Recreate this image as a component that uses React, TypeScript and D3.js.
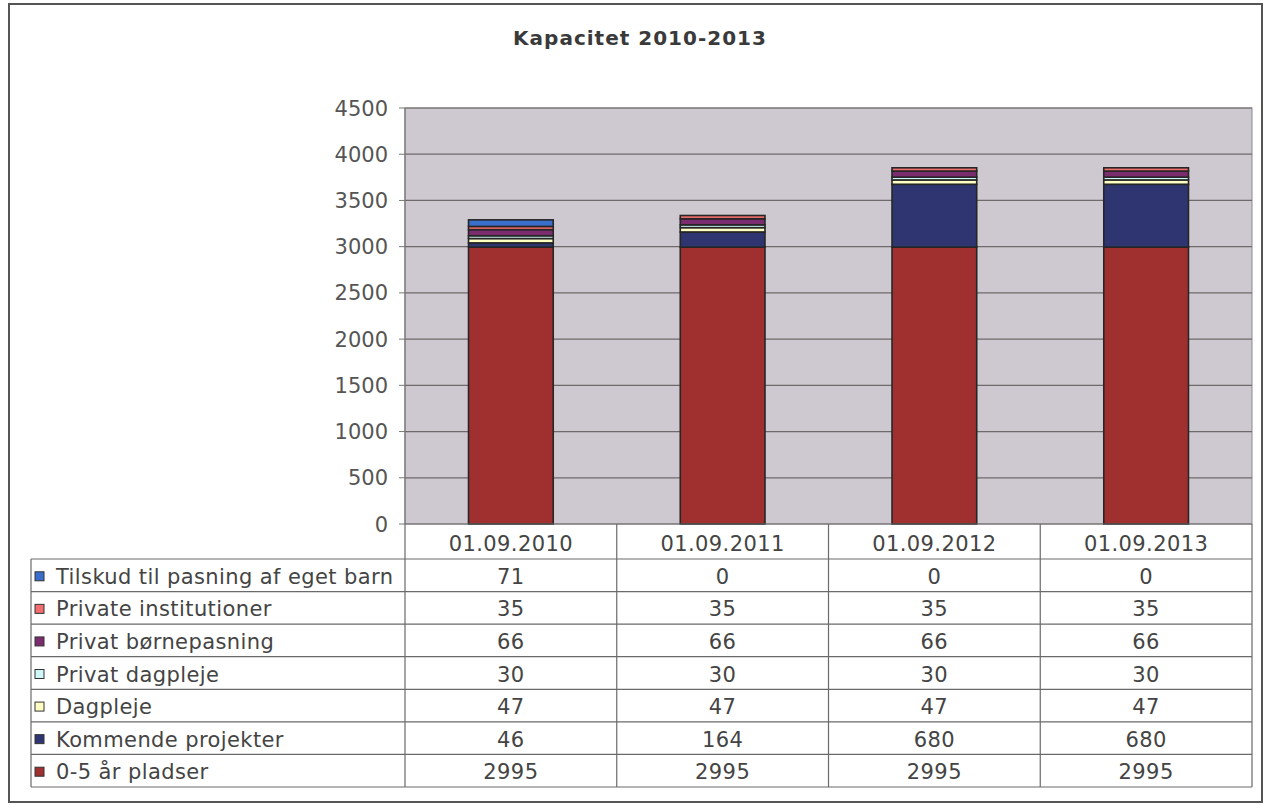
import React from "react";
import * as d3 from "d3";

const categories = ["01.09.2010", "01.09.2011", "01.09.2012", "01.09.2013"];
// series listed bottom-to-top in stack order
const seriesNames = [
  "0-5 år pladser",
  "Kommende projekter",
  "Dagpleje",
  "Privat dagpleje",
  "Privat børnepasning",
  "Private institutioner",
  "Tilskud til pasning af eget barn",
];
const seriesColors = ["#A0302F", "#2F3570", "#FFFFC4", "#CFF7F7", "#7A2C6E", "#F26D6D", "#3A6ECC"];
const pladser = [2995, 2995, 2995, 2995];
const kommende = [46, 164, 680, 680];
const dagpleje = [47, 47, 47, 47];
const privatDagpleje = [30, 30, 30, 30];
const privatBoernepasning = [66, 66, 66, 66];
const privateInstitutioner = [35, 35, 35, 35];
const tilskud = [71, 0, 0, 0];
const seriesValues = [pladser, kommende, dagpleje, privatDagpleje, privatBoernepasning, privateInstitutioner, tilskud];
const yTicks = [0, 500, 1000, 1500, 2000, 2500, 3000, 3500, 4000, 4500];
const title = "Kapacitet 2010-2013";

const W = 1268;
const H = 805;
const plotL = 405, plotR = 1252, plotT = 108, plotB = 524;
const tableL = 31, headerB = 559, tableB = 787;
const font = "'DejaVu Sans', Verdana, sans-serif";
const textCol = "#444";

export default function App() {
  const x = d3.scaleBand<string>().domain(categories).range([plotL, plotR]).paddingInner(0.6).paddingOuter(0.3);
  const col = d3.scaleBand<string>().domain(categories).range([plotL, plotR]).padding(0);
  const y = d3.scaleLinear().domain([0, 4500]).range([plotB, plotT]);

  const rows = categories.map((c, i) => {
    const o: any = { cat: c };
    seriesNames.forEach((s, j) => (o[s] = seriesValues[j][i]));
    return o;
  });
  const stacked = d3.stack<any>().keys(seriesNames)(rows);

  const tableOrder = seriesNames.map((_, j) => seriesNames.length - 1 - j);
  const rowScale = d3.scaleBand<number>().domain(tableOrder.map((_, k) => k)).range([headerB, tableB]);

  return (
    <svg width={W} height={H} style={{ position: "absolute", left: 0, top: 0, background: "#fff" }}>
      <rect x={0} y={0} width={W} height={H} fill="#fff" />
      <rect x={9} y={4} width={1253} height={798} fill="none" stroke="#555" strokeWidth={2} />
      <text x={640} y={45} textAnchor="middle" fontFamily={font} fontWeight="bold" fontSize={20} letterSpacing={1} fill="#3a3a3a">
        {title}
      </text>
      {/* plot area */}
      <rect x={plotL} y={plotT} width={plotR - plotL} height={plotB - plotT} fill="#CEC8D0" stroke="#8a8a8a" strokeWidth={1} />
      {yTicks.map((t) => (
        <g key={t}>
          {t > 0 && <line x1={plotL} x2={plotR} y1={y(t)} y2={y(t)} stroke="#6f6a6a" strokeWidth={1.2} />}
          <line x1={plotL - 6} x2={plotL} y1={y(t)} y2={y(t)} stroke="#777" strokeWidth={1} />
          <text x={388} y={y(t)} dy="0.36em" textAnchor="end" fontFamily={font} fontSize={21} fill="#555">
            {t}
          </text>
        </g>
      ))}
      <line x1={plotL} x2={plotL} y1={plotT} y2={plotB} stroke="#777" strokeWidth={1.2} />
      {/* bars */}
      {stacked.map((layer, j) =>
        layer.map((d, i) => {
          const h = y(d[0]) - y(d[1]);
          if (h <= 0) return null;
          return (
            <rect
              key={`${j}-${i}`}
              x={x(categories[i])}
              y={y(d[1])}
              width={x.bandwidth()}
              height={h}
              fill={seriesColors[j]}
              stroke="#262626"
              strokeWidth={1.6}
            />
          );
        })
      )}
      {/* table */}
      <g fontFamily={font} fontSize={21} fill={textCol} letterSpacing={0.4}>
        {categories.map((c) => (
          <text key={c} x={col(c)! + col.bandwidth() / 2} y={(plotB + headerB) / 2 + 2} dy="0.36em" textAnchor="middle">
            {c}
          </text>
        ))}
        {tableOrder.map((j, k) => {
          const top = rowScale(k)!;
          const mid = top + rowScale.bandwidth() / 2 + 1;
          return (
            <g key={j}>
              <rect x={35} y={mid - 4.5} width={9} height={9} fill={seriesColors[j]} stroke="#333" strokeWidth={1} />
              <text x={56} y={mid} dy="0.36em">
                {seriesNames[j]}
              </text>
              {categories.map((c, i) => (
                <text key={c} x={col(c)! + col.bandwidth() / 2} y={mid} dy="0.36em" textAnchor="middle">
                  {seriesValues[j][i]}
                </text>
              ))}
            </g>
          );
        })}
      </g>
      {/* table grid */}
      <g stroke="#6a6a6a" strokeWidth={1.2} fill="none">
        {tableOrder.map((_, k) => (
          <line key={k} x1={tableL} x2={plotR} y1={rowScale(k)!} y2={rowScale(k)!} />
        ))}
        <line x1={tableL} x2={plotR} y1={tableB} y2={tableB} />
        <line x1={tableL} x2={tableL} y1={headerB} y2={tableB} />
        {categories.map((c) => (
          <line key={c} x1={col(c)!} x2={col(c)!} y1={plotB} y2={tableB} />
        ))}
        <line x1={plotR} x2={plotR} y1={plotB} y2={tableB} />
        <line x1={plotL} x2={plotR} y1={plotB} y2={plotB} />
      </g>
    </svg>
  );
}
